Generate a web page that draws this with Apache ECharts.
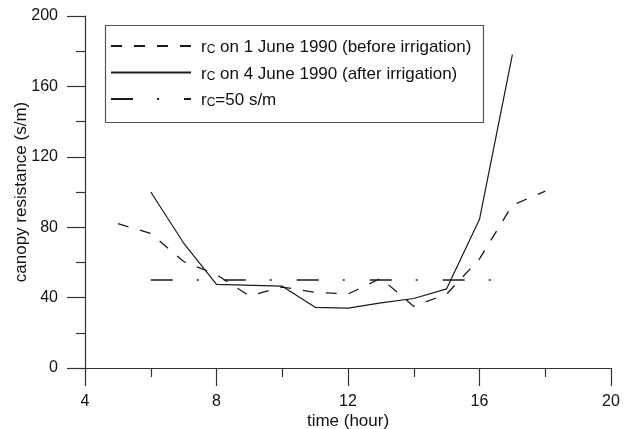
<!DOCTYPE html>
<html><head><meta charset="utf-8">
<script src="https://cdn.jsdelivr.net/npm/echarts@6/dist/echarts.min.js"></script>
<style>html,body{margin:0;padding:0;background:#fff}#c{width:624px;height:429px}</style>
</head><body><div id="c"></div>
<script>
// time (hour) and canopy resistance (s/m)
const hoursJune1 = [5, 6, 7, 8, 9, 10, 11, 12, 13, 14, 15, 16, 17, 18];
const rcJune1 = [82, 76.5, 60.5, 53, 41, 46, 43, 42, 51, 35, 42, 62, 92.5, 100.5];
const hoursJune4 = [6, 7, 8, 10, 11, 12, 13, 14, 15, 16, 17];
const rcJune4 = [100, 71, 47.5, 46.5, 34.5, 34, 37, 39.5, 45, 84.5, 178];
const hoursConst = [6, 16.4];
const rcConst = [50, 50];
const xTicks = [4, 8, 12, 16, 20];
const yTicks = [0, 40, 80, 120, 160, 200];

const legendNames = {
  june1: '{r|r}{sub|C}{t| on 1 June 1990 (before irrigation)}',
  june4: '{r|r}{sub|C}{t| on 4 June 1990 (after irrigation)}',
  rc50: '{r|r}{sub|C}{t|=50 s/m}'
};

const pairs = (xs, ys) => xs.map((x, i) => [x, ys[i]]);
const FONT = '"Liberation Sans", Arial, sans-serif';
const AX = '#333';
const TXT = '#111';

const chart = echarts.init(document.getElementById('c'), null, {renderer: 'canvas'});
chart.setOption({
  backgroundColor: '#fff',
  animation: false,
  textStyle: {fontFamily: FONT},
  grid: {left: 85, right: 13, top: 16, bottom: 61, containLabel: false, outerBoundsMode: 'none'},
  graphic: [{
    type: 'rect', left: 103, top: 23, z: 10,
    shape: {width: 378, height: 97},
    style: {fill: 'none', stroke: '#555', lineWidth: 1.2}
  }],
  legend: {
    orient: 'vertical', left: 110, top: 39, padding: 0,
    itemWidth: 80, itemHeight: 14, itemGap: 9.5,
    data: ['june1', 'june4', 'rc50'],
    formatter: n => legendNames[n],
    selectedMode: false,
    itemStyle: {opacity: 0, color: 'transparent', borderColor: 'transparent', borderWidth: 0},
    textStyle: {
      fontFamily: FONT, color: TXT,
      rich: {
        r: {fontSize: 17, fontFamily: FONT, color: TXT, lineHeight: 20, verticalAlign: 'bottom', padding: [0, 0, 0, 5]},
        sub: {fontSize: 12, fontFamily: FONT, color: TXT, lineHeight: 8, verticalAlign: 'bottom'},
        t: {fontSize: 17, fontFamily: FONT, color: TXT, lineHeight: 20, verticalAlign: 'bottom'}
      }
    }
  },
  xAxis: {
    type: 'value', min: xTicks[0], max: xTicks[xTicks.length - 1], interval: 4,
    name: 'time (hour)', nameLocation: 'middle', nameGap: 45, nameMoveOverlap: false,
    nameTextStyle: {fontSize: 17, color: TXT, fontFamily: FONT},
    axisLine: {show: true, onZero: false, lineStyle: {color: AX, width: 1.2}},
    axisTick: {show: true, length: 18, lineStyle: {color: AX, width: 1.2}},
    minorTick: {show: true, splitNumber: 2, length: 9, lineStyle: {color: AX, width: 1.2}},
    axisLabel: {fontSize: 16, color: TXT, margin: 26, fontFamily: FONT, showMinLabel: true, showMaxLabel: true},
    splitLine: {show: false}, minorSplitLine: {show: false}
  },
  yAxis: {
    type: 'value', min: yTicks[0], max: yTicks[yTicks.length - 1], interval: 40,
    name: 'canopy resistance (s/m)', nameLocation: 'middle', nameGap: 55, nameMoveOverlap: false,
    nameTextStyle: {fontSize: 17, color: TXT, fontFamily: FONT},
    axisLine: {show: true, onZero: false, lineStyle: {color: AX, width: 1.2}},
    axisTick: {show: true, length: 18, lineStyle: {color: AX, width: 1.2}},
    minorTick: {show: true, splitNumber: 2, length: 9, lineStyle: {color: AX, width: 1.2}},
    axisLabel: {fontSize: 16, color: TXT, margin: 27, fontFamily: FONT, showMinLabel: true, showMaxLabel: true},
    splitLine: {show: false}, minorSplitLine: {show: false}
  },
  series: [
    {name: 'june1', type: 'line', symbol: 'none', data: pairs(hoursJune1, rcJune1),
     lineStyle: {color: '#1a1a1a', width: 1.3, type: [11, 12]}, itemStyle: {color: '#1a1a1a'}},
    {name: 'june4', type: 'line', symbol: 'none', data: pairs(hoursJune4, rcJune4),
     lineStyle: {color: '#1a1a1a', width: 1.2, type: 'solid'}, itemStyle: {color: '#1a1a1a'}},
    {name: 'rc50', type: 'line', symbol: 'none', data: pairs(hoursConst, rcConst),
     lineStyle: {color: '#1a1a1a', width: 1.4, type: [22, 24, 2, 25]}, itemStyle: {color: '#1a1a1a'}}
  ]
});
</script>
</body></html>
